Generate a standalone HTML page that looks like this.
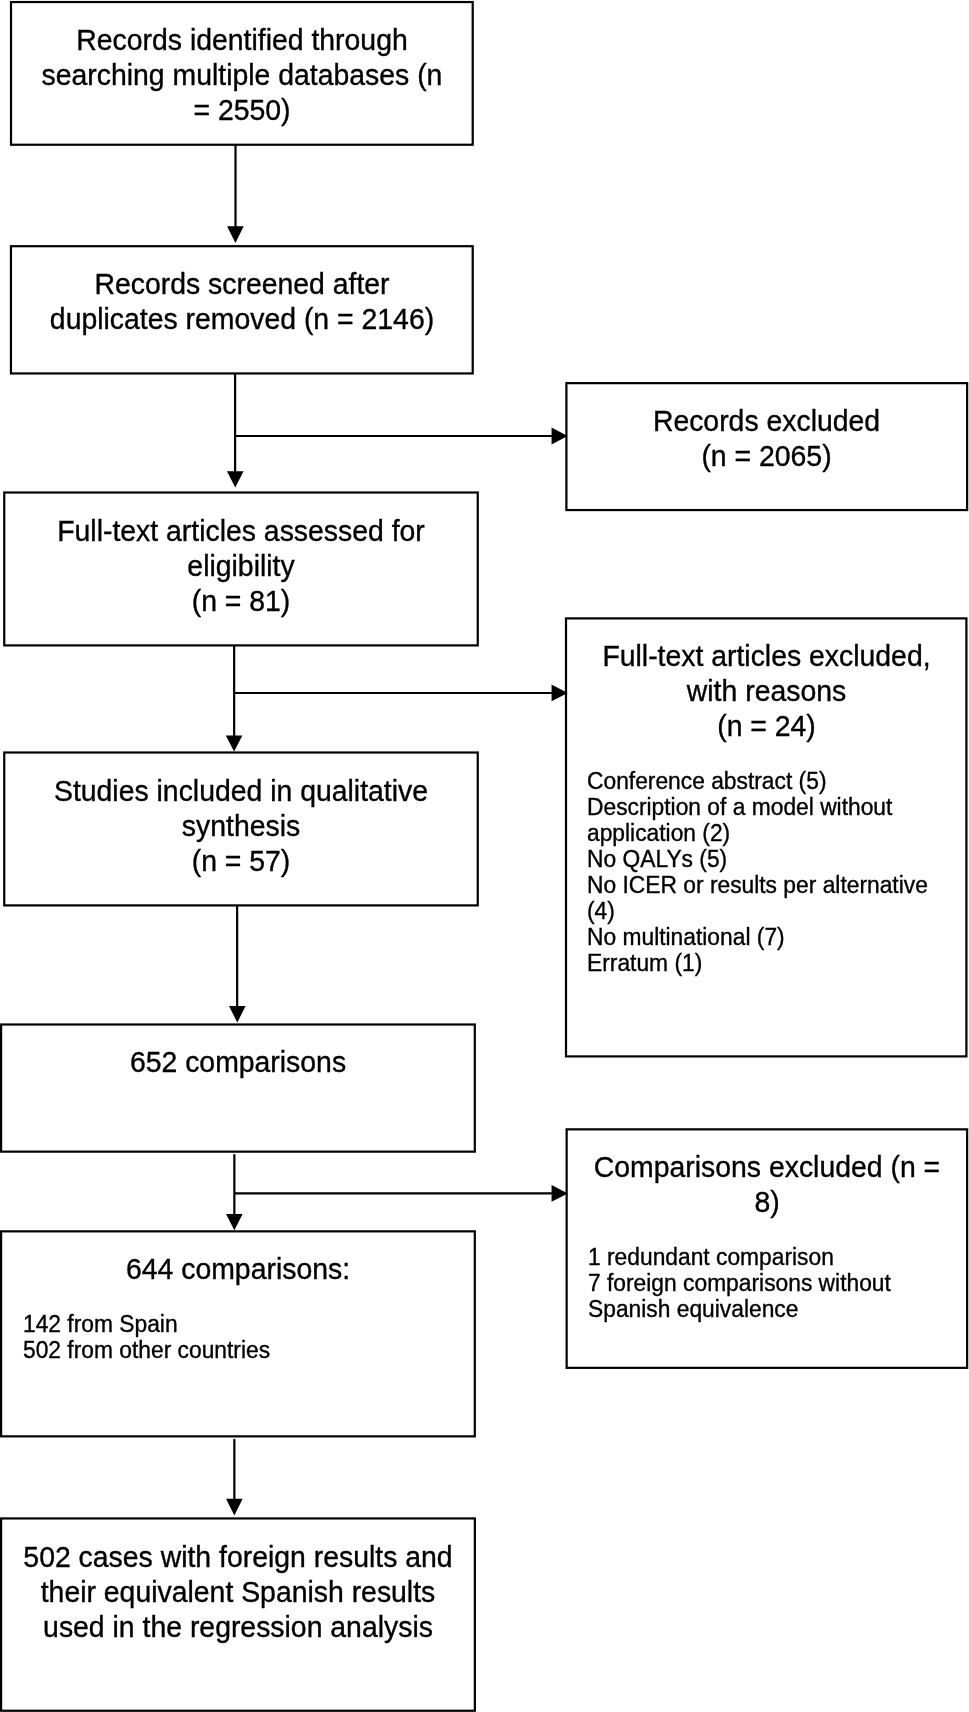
<!DOCTYPE html>
<html><head><meta charset="utf-8"><style>
html,body{margin:0;padding:0;background:#fff;}
body{width:969px;height:1712px;position:relative;overflow:hidden;font-family:"Liberation Sans",sans-serif;color:#000;}
.b{position:absolute;box-sizing:border-box;border:2px solid #000;}
.t{position:absolute;white-space:nowrap;will-change:transform;-webkit-text-stroke:0.35px #000;}
.ln{position:absolute;background:#000;}
svg{position:absolute;left:0;top:0;}
</style></head><body>
<svg width="969" height="1712" viewBox="0 0 969 1712">
<rect x="11.0" y="2.05" width="461.70" height="142.70" fill="none" stroke="#000" stroke-width="2.2"/>
<rect x="10.95" y="246.2" width="461.75" height="127.25" fill="none" stroke="#000" stroke-width="2.2"/>
<rect x="566.4" y="383.15" width="400.75" height="126.90" fill="none" stroke="#000" stroke-width="2.2"/>
<rect x="4.25" y="492.5" width="473.50" height="152.90" fill="none" stroke="#000" stroke-width="2.2"/>
<rect x="566.0" y="618.4" width="400.40" height="438.00" fill="none" stroke="#000" stroke-width="2.2"/>
<rect x="4.25" y="752.5" width="473.50" height="152.90" fill="none" stroke="#000" stroke-width="2.2"/>
<rect x="1.1" y="1024.5" width="473.70" height="127.15" fill="none" stroke="#000" stroke-width="2.2"/>
<rect x="566.65" y="1129.35" width="400.50" height="238.50" fill="none" stroke="#000" stroke-width="2.2"/>
<rect x="1.1" y="1231.35" width="473.70" height="205.00" fill="none" stroke="#000" stroke-width="2.2"/>
<rect x="1.1" y="1518.45" width="473.75" height="192.30" fill="none" stroke="#000" stroke-width="2.2"/>
<line x1="235.5" y1="144.75" x2="235.5" y2="229" stroke="#000" stroke-width="2.2" stroke-linecap="butt"/>
<polygon points="227.10,226.25 243.70,226.25 235.4,243.1" fill="#000"/>
<line x1="235.1" y1="373.45" x2="235.1" y2="474" stroke="#000" stroke-width="2.2" stroke-linecap="butt"/>
<line x1="235.1" y1="436.0" x2="555" y2="436.0" stroke="#000" stroke-width="2.2"/>
<polygon points="226.95,471.25 243.55,471.25 235.25,487.5" fill="#000"/>
<polygon points="551.55,427.60 551.55,444.40 567.6,436.0" fill="#000"/>
<line x1="234.15" y1="645.4" x2="234.15" y2="738" stroke="#000" stroke-width="2.2" stroke-linecap="butt"/>
<line x1="234.15" y1="693.0" x2="555" y2="693.0" stroke="#000" stroke-width="2.2"/>
<polygon points="225.80,735.45 242.40,735.45 234.1,751.5" fill="#000"/>
<polygon points="551.55,684.55 551.55,701.35 567.7,692.95" fill="#000"/>
<line x1="237.15" y1="905.4" x2="237.15" y2="1009" stroke="#000" stroke-width="2.2" stroke-linecap="butt"/>
<polygon points="229.00,1006.05 245.60,1006.05 237.3,1022.5" fill="#000"/>
<line x1="234.35" y1="1155.2" x2="234.35" y2="1217" stroke="#000" stroke-width="2.2" stroke-linecap="round"/>
<line x1="234.35" y1="1193.3" x2="555" y2="1193.3" stroke="#000" stroke-width="2.2"/>
<polygon points="226.05,1213.95 242.65,1213.95 234.35,1230.2" fill="#000"/>
<polygon points="551.55,1185.00 551.55,1201.80 567.8,1193.4" fill="#000"/>
<line x1="234.35" y1="1439.9" x2="234.35" y2="1502" stroke="#000" stroke-width="2.2" stroke-linecap="round"/>
<polygon points="226.05,1498.65 242.65,1498.65 234.35,1515.6" fill="#000"/>
</svg>
<div class="t" style="top:21.66px;left:10px;width:464px;font-size:28.4px;line-height:37px;text-align:center;transform:scaleY(1.015);transform-origin:0 28.34px;">Records identified through</div>
<div class="t" style="top:56.66px;left:10px;width:464px;font-size:28.4px;line-height:37px;text-align:center;transform:scaleY(1.015);transform-origin:0 28.34px;">searching multiple databases (n</div>
<div class="t" style="top:91.66px;left:10px;width:464px;font-size:28.4px;line-height:37px;text-align:center;transform:scaleY(1.015);transform-origin:0 28.34px;">= 2550)</div>
<div class="t" style="top:266.16px;left:10px;width:464px;font-size:28.4px;line-height:37px;text-align:center;transform:scaleY(1.015);transform-origin:0 28.34px;">Records screened after</div>
<div class="t" style="top:301.16px;left:10px;width:464px;font-size:28.4px;line-height:37px;text-align:center;transform:scaleY(1.015);transform-origin:0 28.34px;">duplicates removed (n = 2146)</div>
<div class="t" style="top:402.66px;left:565px;width:403px;font-size:28.4px;line-height:37px;text-align:center;transform:scaleY(1.015);transform-origin:0 28.34px;">Records excluded</div>
<div class="t" style="top:437.66px;left:565px;width:403px;font-size:28.4px;line-height:37px;text-align:center;transform:scaleY(1.015);transform-origin:0 28.34px;">(n = 2065)</div>
<div class="t" style="top:512.66px;left:3px;width:476px;font-size:28.4px;line-height:37px;text-align:center;transform:scaleY(1.015);transform-origin:0 28.34px;">Full-text articles assessed for</div>
<div class="t" style="top:547.66px;left:3px;width:476px;font-size:28.4px;line-height:37px;text-align:center;transform:scaleY(1.015);transform-origin:0 28.34px;">eligibility</div>
<div class="t" style="top:582.66px;left:3px;width:476px;font-size:28.4px;line-height:37px;text-align:center;transform:scaleY(1.015);transform-origin:0 28.34px;">(n = 81)</div>
<div class="t" style="top:637.86px;left:565px;width:403px;font-size:28.4px;line-height:37px;text-align:center;transform:scaleY(1.015);transform-origin:0 28.34px;">Full-text articles excluded,</div>
<div class="t" style="top:672.86px;left:565px;width:403px;font-size:28.4px;line-height:37px;text-align:center;transform:scaleY(1.015);transform-origin:0 28.34px;">with reasons</div>
<div class="t" style="top:707.86px;left:565px;width:403px;font-size:28.4px;line-height:37px;text-align:center;transform:scaleY(1.015);transform-origin:0 28.34px;">(n = 24)</div>
<div class="t" style="top:766.10px;left:587px;width:400px;font-size:22.8px;line-height:30px;text-align:left;transform:scaleY(1.015);transform-origin:0 22.90px;">Conference abstract (5)</div>
<div class="t" style="top:792.10px;left:587px;width:400px;font-size:22.8px;line-height:30px;text-align:left;transform:scaleY(1.015);transform-origin:0 22.90px;">Description of a model without</div>
<div class="t" style="top:818.10px;left:587px;width:400px;font-size:22.8px;line-height:30px;text-align:left;transform:scaleY(1.015);transform-origin:0 22.90px;">application (2)</div>
<div class="t" style="top:844.10px;left:587px;width:400px;font-size:22.8px;line-height:30px;text-align:left;transform:scaleY(1.015);transform-origin:0 22.90px;">No QALYs (5)</div>
<div class="t" style="top:870.10px;left:587px;width:400px;font-size:22.8px;line-height:30px;text-align:left;transform:scaleY(1.015);transform-origin:0 22.90px;">No ICER or results per alternative</div>
<div class="t" style="top:896.10px;left:587px;width:400px;font-size:22.8px;line-height:30px;text-align:left;transform:scaleY(1.015);transform-origin:0 22.90px;">(4)</div>
<div class="t" style="top:922.10px;left:587px;width:400px;font-size:22.8px;line-height:30px;text-align:left;transform:scaleY(1.015);transform-origin:0 22.90px;">No multinational (7)</div>
<div class="t" style="top:948.10px;left:587px;width:400px;font-size:22.8px;line-height:30px;text-align:left;transform:scaleY(1.015);transform-origin:0 22.90px;">Erratum (1)</div>
<div class="t" style="top:772.66px;left:3px;width:476px;font-size:28.4px;line-height:37px;text-align:center;transform:scaleY(1.015);transform-origin:0 28.34px;">Studies included in qualitative</div>
<div class="t" style="top:807.66px;left:3px;width:476px;font-size:28.4px;line-height:37px;text-align:center;transform:scaleY(1.015);transform-origin:0 28.34px;">synthesis</div>
<div class="t" style="top:842.66px;left:3px;width:476px;font-size:28.4px;line-height:37px;text-align:center;transform:scaleY(1.015);transform-origin:0 28.34px;">(n = 57)</div>
<div class="t" style="top:1044.36px;left:0px;width:476px;font-size:28.4px;line-height:37px;text-align:center;transform:scaleY(1.015);transform-origin:0 28.34px;">652 comparisons</div>
<div class="t" style="top:1148.66px;left:566px;width:402px;font-size:28.4px;line-height:37px;text-align:center;transform:scaleY(1.015);transform-origin:0 28.34px;">Comparisons excluded (n =</div>
<div class="t" style="top:1183.66px;left:566px;width:402px;font-size:28.4px;line-height:37px;text-align:center;transform:scaleY(1.015);transform-origin:0 28.34px;">8)</div>
<div class="t" style="top:1242.10px;left:588px;width:400px;font-size:22.8px;line-height:30px;text-align:left;transform:scaleY(1.015);transform-origin:0 22.90px;">1 redundant comparison</div>
<div class="t" style="top:1268.10px;left:588px;width:400px;font-size:22.8px;line-height:30px;text-align:left;transform:scaleY(1.015);transform-origin:0 22.90px;">7 foreign comparisons without</div>
<div class="t" style="top:1294.10px;left:588px;width:400px;font-size:22.8px;line-height:30px;text-align:left;transform:scaleY(1.015);transform-origin:0 22.90px;">Spanish equivalence</div>
<div class="t" style="top:1250.66px;left:0px;width:476px;font-size:28.4px;line-height:37px;text-align:center;transform:scaleY(1.015);transform-origin:0 28.34px;">644 comparisons:</div>
<div class="t" style="top:1309.10px;left:23px;width:400px;font-size:22.8px;line-height:30px;text-align:left;transform:scaleY(1.015);transform-origin:0 22.90px;">142 from Spain</div>
<div class="t" style="top:1335.10px;left:23px;width:400px;font-size:22.8px;line-height:30px;text-align:left;transform:scaleY(1.015);transform-origin:0 22.90px;">502 from other countries</div>
<div class="t" style="top:1538.66px;left:0px;width:476px;font-size:28.4px;line-height:37px;text-align:center;transform:scaleY(1.015);transform-origin:0 28.34px;">502 cases with foreign results and</div>
<div class="t" style="top:1573.66px;left:0px;width:476px;font-size:28.4px;line-height:37px;text-align:center;transform:scaleY(1.015);transform-origin:0 28.34px;">their equivalent Spanish results</div>
<div class="t" style="top:1608.66px;left:0px;width:476px;font-size:28.4px;line-height:37px;text-align:center;transform:scaleY(1.015);transform-origin:0 28.34px;">used in the regression analysis</div>
</body></html>
